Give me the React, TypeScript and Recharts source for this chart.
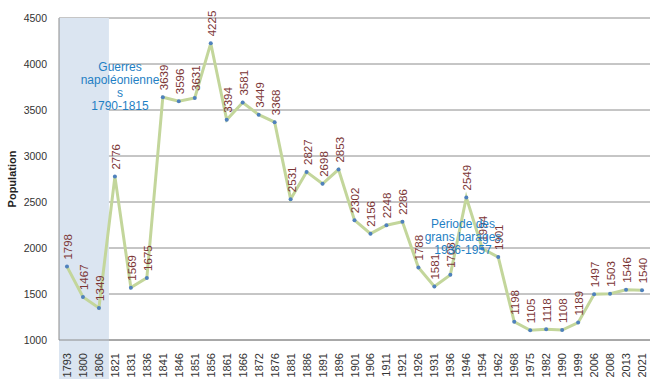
import {
  CartesianGrid,
  ComposedChart,
  LabelList,
  Line,
  ReferenceArea,
  XAxis,
  YAxis,
} from "recharts";

const years = [
  "1793", "1800", "1806", "1821", "1831", "1836", "1841", "1846", "1851", "1856",
  "1861", "1866", "1872", "1876", "1881", "1886", "1891", "1896", "1901", "1906",
  "1911", "1921", "1926", "1931", "1936", "1946", "1954", "1962", "1968", "1975",
  "1982", "1990", "1999", "2006", "2008", "2013", "2021",
];

const population = [
  1798, 1467, 1349, 2776, 1569, 1675, 3639, 3596, 3631, 4225,
  3394, 3581, 3449, 3368, 2531, 2827, 2698, 2853, 2302, 2156,
  2248, 2286, 1788, 1581, 1708, 2549, 1994, 1901, 1198, 1105,
  1118, 1108, 1189, 1497, 1503, 1546, 1540,
];

const yTicks = [1000, 1500, 2000, 2500, 3000, 3500, 4000, 4500];

const data = years.map((year, i) => ({ year, value: population[i] }));

const FONT = '"Liberation Sans", Arial, sans-serif';
const ANNOT_COLOR = "#1f7fc4";

function XTick({ x, y, payload }: { x: number; y: number; payload: { value: string } }) {
  return (
    <text
      x={x}
      y={y + 5}
      transform={`rotate(-90, ${x}, ${y + 5})`}
      textAnchor="end"
      dominantBaseline="central"
      fontSize={11}
      fontFamily={FONT}
      fill="#333"
    >
      {payload.value}
    </text>
  );
}

function ValueLabel(props: any) {
  const { x, y, value } = props;
  const ly = y - 7;
  return (
    <text
      x={x + 1}
      y={ly}
      transform={`rotate(-90, ${x + 1}, ${ly})`}
      textAnchor="start"
      dominantBaseline="central"
      fontSize={11.5}
      fontFamily={FONT}
      fill="#7b3535"
    >
      {value}
    </text>
  );
}

function ShadeShape(props: any) {
  const { x, y, width, height } = props;
  return <rect x={x} y={y} width={width + 2} height={height + 39} fill="#dbe5f1" />;
}

const annotStyle = {
  position: "absolute" as const,
  color: ANNOT_COLOR,
  fontFamily: FONT,
  fontSize: 12,
  lineHeight: "13px",
  textAlign: "center" as const,
};

export default function App() {
  return (
    <div style={{ position: "absolute", left: 0, top: 0, width: 650, height: 379, background: "#fff" }}>
      <ComposedChart
        width={650}
        height={379}
        data={data}
        margin={{ top: 18, right: 0, bottom: 0, left: 0 }}
      >
        <ReferenceArea x1="1793" x2="1806" shape={ShadeShape} ifOverflow="visible" />
        <CartesianGrid vertical={false} stroke="#8c8c8c" />
        <XAxis
          dataKey="year"
          scale="band"
          interval={0}
          height={39}
          tickLine={false}
          axisLine={{ stroke: "#8c8c8c" }}
          tick={XTick as any}
        />
        <YAxis
          domain={[1000, 4500]}
          ticks={yTicks}
          width={59}
          tickLine={false}
          tickMargin={6}
          axisLine={{ stroke: "#8c8c8c" }}
          tick={{ fontSize: 10.5, fontFamily: FONT, fill: "#333" }}
          label={{
            value: "Population",
            angle: -90,
            position: "insideLeft",
            offset: 12,
            style: { fontSize: 11, fontWeight: "bold", fontFamily: FONT, fill: "#222", textAnchor: "middle" },
          }}
        />
        <Line
          dataKey="value"
          stroke="#c3d69b"
          strokeWidth={3}
          dot={{ r: 2, fill: "#4f81bd", stroke: "none" }}
          isAnimationActive={false}
        >
          <LabelList dataKey="value" content={ValueLabel} />
        </Line>
      </ComposedChart>
      <div style={{ ...annotStyle, left: 75, top: 61, width: 90 }}>
        Guerres
        <br />
        napoléonienne
        <br />s<br />
        1790-1815
      </div>
      <div style={{ ...annotStyle, left: 418, top: 218, width: 90 }}>
        Période des
        <br />
        grans barages
        <br />
        1936-1957
      </div>
    </div>
  );
}
